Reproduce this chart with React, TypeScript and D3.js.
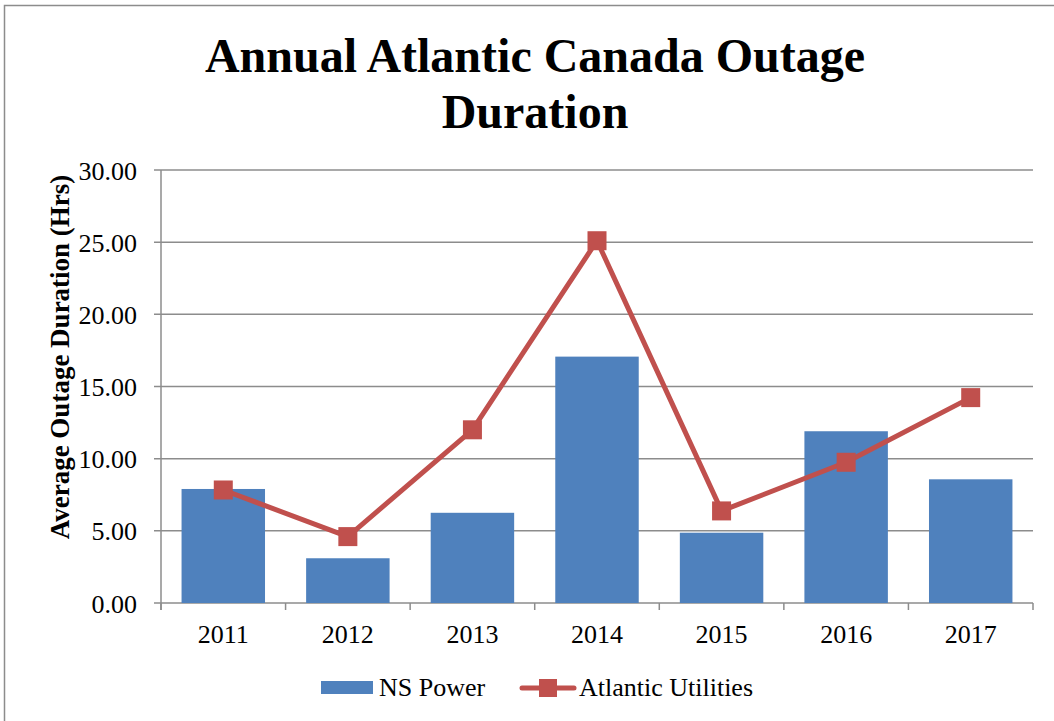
import { useRef, useEffect } from 'react'
import * as d3 from 'd3'

const YEARS = ['2011', '2012', '2013', '2014', '2015', '2016', '2017']
const NS_POWER = [7.9, 3.1, 6.25, 17.07, 4.87, 11.9, 8.57]
const ATLANTIC = [7.83, 4.6, 12.0, 25.1, 6.38, 9.75, 14.23]
const Y_TICKS = [0, 5, 10, 15, 20, 25, 30]

const BLUE = '#4F81BD'
const RED = '#C0504D'
const GRID = '#8C8C8C'
const FONT = '"Liberation Serif", "Times New Roman", serif'

export default function App() {
  const svgRef = useRef<SVGSVGElement>(null)

  useEffect(() => {
    if (!svgRef.current) return
    const W = 1054
    const H = 721
    const pad = { l: 161, r: 21, t: 170, b: 118 }

    const svg = d3.select(svgRef.current)
    svg.selectAll('*').remove()

    // outer frame
    svg.append('rect')
      .attr('x', 4.5).attr('y', 5.5)
      .attr('width', W + 10).attr('height', H + 10)
      .attr('fill', '#fff').attr('stroke', GRID).attr('stroke-width', 1.5)

    const x = d3.scaleBand().domain(YEARS).range([pad.l, W - pad.r]).paddingInner(0.33).paddingOuter(0.165)
    const xEdge = d3.scaleBand().domain(YEARS).range([pad.l, W - pad.r])
    const y = d3.scaleLinear().domain([0, 30]).range([H - pad.b, pad.t])

    // title
    const title = svg.append('text')
      .attr('text-anchor', 'middle').attr('font-family', FONT)
      .attr('font-weight', 'bold').attr('font-size', 48).attr('fill', '#000')
    title.append('tspan').attr('x', 535).attr('y', 72).text('Annual Atlantic Canada Outage')
    title.append('tspan').attr('x', 535).attr('y', 128).text('Duration')

    // grid + y ticks
    svg.selectAll('.grid')
      .data(Y_TICKS)
      .join('line')
      .attr('x1', pad.l - 7).attr('x2', W - pad.r)
      .attr('y1', d => y(d)).attr('y2', d => y(d))
      .attr('stroke', GRID).attr('stroke-width', 1.5)

    svg.selectAll('.ylab')
      .data(Y_TICKS)
      .join('text')
      .attr('x', pad.l - 24).attr('y', d => y(d) + 9.5)
      .attr('text-anchor', 'end').attr('font-size', 26)
      .attr('font-family', FONT).attr('fill', '#000')
      .text(d => d3.format('.2f')(d))

    // y axis line
    svg.append('line')
      .attr('x1', pad.l).attr('x2', pad.l)
      .attr('y1', y(30)).attr('y2', y(0) + 7)
      .attr('stroke', GRID).attr('stroke-width', 1.5)

    // x ticks
    const edges = YEARS.map(d => xEdge(d) as number).concat([W - pad.r])
    svg.selectAll('.xtick')
      .data(edges)
      .join('line')
      .attr('x1', d => d).attr('x2', d => d)
      .attr('y1', y(0)).attr('y2', y(0) + 7)
      .attr('stroke', GRID).attr('stroke-width', 1.5)

    svg.selectAll('.xlab')
      .data(YEARS)
      .join('text')
      .attr('x', d => (xEdge(d) as number) + xEdge.bandwidth() / 2)
      .attr('y', y(0) + 40)
      .attr('text-anchor', 'middle').attr('font-size', 26)
      .attr('font-family', FONT).attr('fill', '#000')
      .text(d => d)

    // y axis title
    svg.append('text')
      .attr('transform', `translate(69,357) rotate(-90)`)
      .attr('text-anchor', 'middle').attr('font-size', 27).attr('font-weight', 'bold')
      .attr('font-family', FONT).attr('fill', '#000')
      .text('Average Outage Duration (Hrs)')

    // bars
    svg.selectAll('.bar')
      .data(NS_POWER)
      .join('rect')
      .attr('x', (d, i) => x(YEARS[i]) as number)
      .attr('y', d => y(d))
      .attr('width', x.bandwidth())
      .attr('height', d => y(0) - y(d))
      .attr('fill', BLUE)

    // line
    const cx = (i: number) => (xEdge(YEARS[i]) as number) + xEdge.bandwidth() / 2
    const line = d3.line<number>().x((d, i) => cx(i)).y(d => y(d))
    svg.append('path')
      .datum(ATLANTIC)
      .attr('d', line)
      .attr('fill', 'none').attr('stroke', RED).attr('stroke-width', 5)
      .attr('stroke-linejoin', 'round')

    const m = 19
    svg.selectAll('.marker')
      .data(ATLANTIC)
      .join('rect')
      .attr('x', (d, i) => cx(i) - m / 2)
      .attr('y', d => y(d) - m / 2)
      .attr('width', m).attr('height', m)
      .attr('fill', RED)

    // legend
    const lg = svg.append('g')
    lg.append('rect').attr('x', 321).attr('y', 681).attr('width', 52).attr('height', 13).attr('fill', BLUE)
    lg.append('text').attr('x', 379).attr('y', 696).attr('font-size', 26)
      .attr('font-family', FONT).attr('fill', '#000').text('NS Power')
    lg.append('line').attr('x1', 522).attr('x2', 574).attr('y1', 688).attr('y2', 688)
      .attr('stroke', RED).attr('stroke-width', 5).attr('stroke-linecap', 'round')
    lg.append('rect').attr('x', 539).attr('y', 679).attr('width', 18).attr('height', 18).attr('fill', RED)
    lg.append('text').attr('x', 579).attr('y', 696).attr('font-size', 26)
      .attr('font-family', FONT).attr('fill', '#000').text('Atlantic Utilities')
  }, [])

  return (
    <svg ref={svgRef} width={1054} height={721}
      style={{ position: 'absolute', left: 0, top: 0, display: 'block' }} />
  )
}
